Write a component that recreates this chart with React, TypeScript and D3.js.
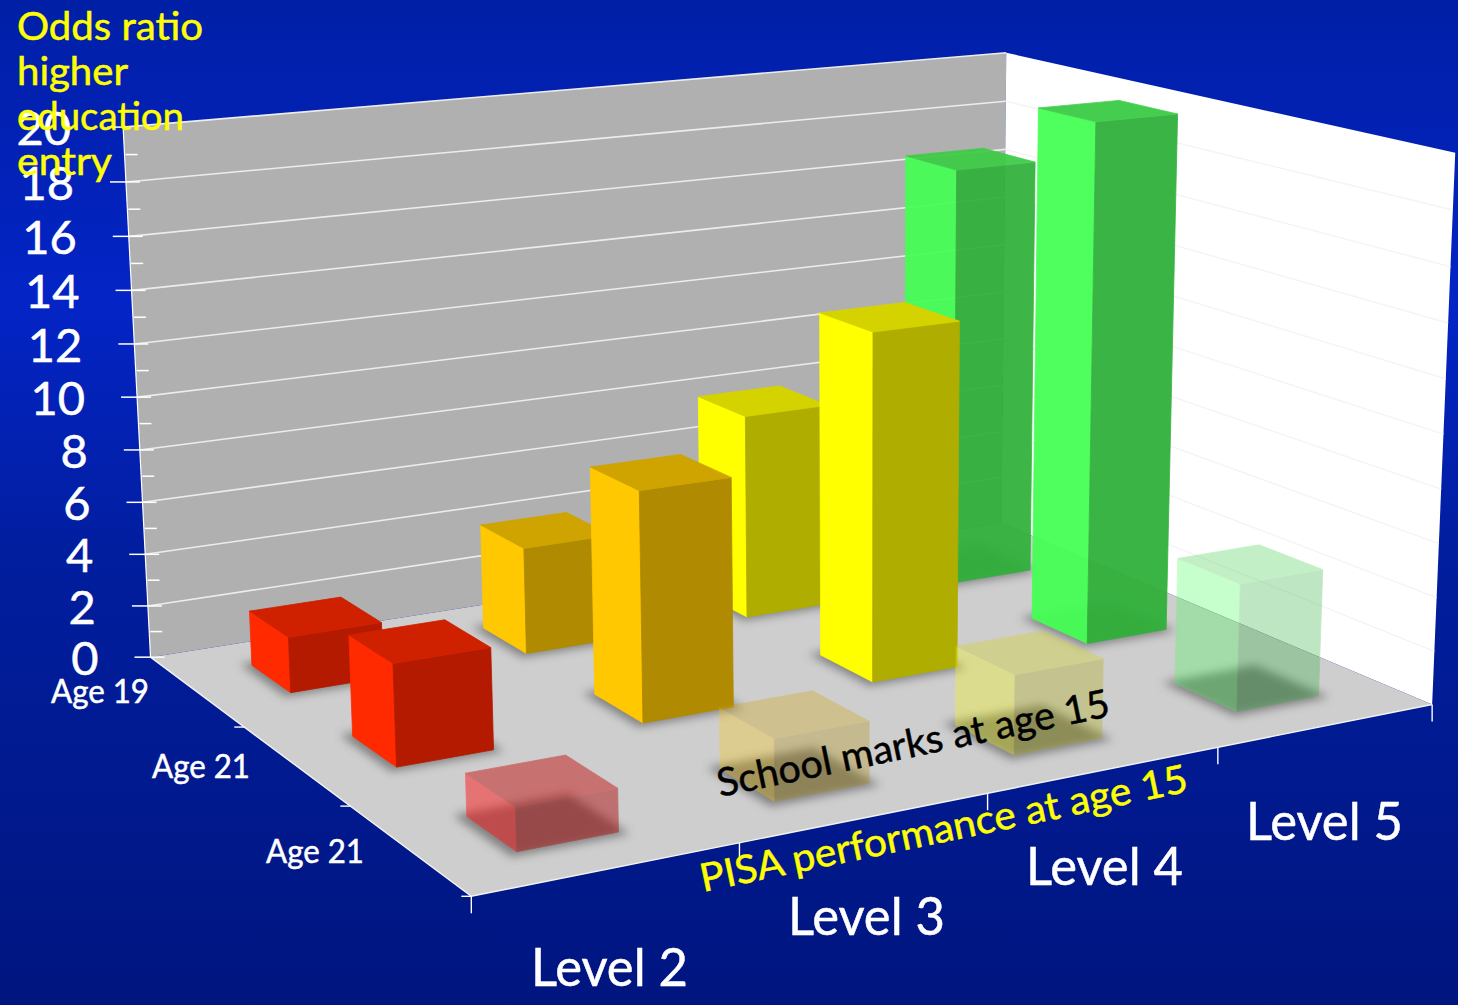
import React from "react";
import * as d3 from "d3";

// ---- chart values -------------------------------------------------------
const levels = ["Level 2", "Level 3", "Level 4", "Level 5"];
const rows = ["Age 19", "Age 21", "Age 21 "];
const age19Values = [2.1, 4.1, 8.0, 16.7];
const age21Values = [3.7, 8.5, 13.1, 19.9];
const age21MarksValues = [1.5, 2.2, 2.9, 4.75];
const valueTicks = d3.range(0, 21);
const yTitle = ["Odds ratio", "higher", "education", "entry"];
const yTitleWidths = [186, 111, 167, 95];

const W = 1458;
const H = 1005;
const FONT = "'Comic Sans MS', 'Lato', sans-serif";

// Calibration of the 3D box: (column edge, row edge, value, px, py, weight).
const anchors: [number, number, number, number, number, number][] = [
  [0, 0, 0, 149.5, 655, 4],
  [4, 0, 0, 1004, 525, 4],
  [0, 3, 0, 472, 898, 4],
  [4, 3, 0, 1430, 703, 4],
  [0, 0, 20, 124, 128, 4],
  [4, 0, 20, 1004, 52, 4],
  [4, 3, 20, 1457, 153, 4],
  [0, 0, 10, 137, 396, 1],
  [1, 3, 0, 741, 846, 1],
  [2, 3, 0, 988, 795, 1],
  [3, 3, 0, 1217, 748, 1],
  [0, 1, 0, 240, 724, 1],
  [0, 2, 0, 347, 805, 1],
  [4, 3, 10, 1444, 429, 1],
];

function solve(A: number[][], b: number[]) {
  const n = b.length;
  const M = A.map((r, i) => [...r, b[i]]);
  for (let c = 0; c < n; c++) {
    let p = c;
    for (let r = c + 1; r < n; r++) if (Math.abs(M[r][c]) > Math.abs(M[p][c])) p = r;
    [M[c], M[p]] = [M[p], M[c]];
    for (let r = 0; r < n; r++) {
      if (r === c) continue;
      const f = M[r][c] / M[c][c];
      for (let k = c; k <= n; k++) M[r][k] -= f * M[c][k];
    }
  }
  return M.map((r, i) => r[n] / r[i]);
}

// Weighted least-squares projection matrix through the calibration points.
function fitCamera() {
  const eqs: number[][] = [];
  const rhs: number[] = [];
  for (const [X0, Y0, Z0, u0, v0, wt] of anchors) {
    const X = X0 / 4, Y = Y0 / 3, Z = Z0 / 20, u = u0 / 1000, v = v0 / 1000;
    eqs.push([X, Y, Z, 1, 0, 0, 0, 0, -u * X, -u * Y, -u * Z].map((e) => e * wt));
    rhs.push(u * wt);
    eqs.push([0, 0, 0, 0, X, Y, Z, 1, -v * X, -v * Y, -v * Z].map((e) => e * wt));
    rhs.push(v * wt);
  }
  const N = d3.range(11).map((i) =>
    d3.range(11).map((j) => d3.sum(eqs, (e) => e[i] * e[j]))
  );
  const t = d3.range(11).map((i) => d3.sum(eqs, (e, k) => e[i] * rhs[k]));
  return solve(N, t);
}
const cam = fitCamera();

const project = (x: number, y: number, z: number): [number, number] => {
  const X = x / 4, Y = y / 3, Z = z / 20;
  const w = cam[8] * X + cam[9] * Y + cam[10] * Z + 1;
  return [
    (1000 * (cam[0] * X + cam[1] * Y + cam[2] * Z + cam[3])) / w,
    (1000 * (cam[4] * X + cam[5] * Y + cam[6] * Z + cam[7])) / w,
  ];
};

const xBand = d3.scaleBand<string>().domain(levels).range([0, 4]).paddingInner(0.615).paddingOuter(0.3075);
const yBand = d3.scaleBand<string>().domain(rows).range([0, 3]).paddingInner(0.6).paddingOuter(0.3);
const poly = d3.line<[number, number]>().curve(d3.curveLinearClosed);
const seg = d3.line<[number, number]>();

const columnColors = [
  { left: "#ff2a00", right: "#b31a00", top: "#cf2000" },
  { left: "#ffc800", right: "#b08a00", top: "#cfa300" },
  { left: "#ffff00", right: "#aead00", top: "#d4d300" },
  { left: "#45ff55", right: "#30b03a", top: "#3ccb46" },
];
const frontRed = { left: "#ff1a1a", right: "#b01414", top: "#c41616" };
const rowOpacity = [
  [1, 1, 1, 0.93],
  [1, 1, 1, 0.95],
  [0.5, 0.3, 0.3, 0.3],
];
const rowValues = [age19Values, age21Values, age21MarksValues];

function Bar({ ci, ri, value }: { ci: number; ri: number; value: number }) {
  const x0 = xBand(levels[ci])!;
  const x1 = x0 + xBand.bandwidth();
  const y0 = yBand(rows[ri])!;
  const y1 = y0 + yBand.bandwidth();
  const c = ri === 2 && ci === 0 ? frontRed : columnColors[ci];
  const op = rowOpacity[ri][ci];
  const faces: [string, [number, number][]][] = [
    [c.left, [project(x0, y0, 0), project(x0, y1, 0), project(x0, y1, value), project(x0, y0, value)]],
    [c.right, [project(x0, y1, 0), project(x1, y1, 0), project(x1, y1, value), project(x0, y1, value)]],
    [c.top, [project(x0, y0, value), project(x0, y1, value), project(x1, y1, value), project(x1, y0, value)]],
  ];
  return (
    <g opacity={op}>
      {faces.map(([fill, pts], i) => (
        <path key={i} d={poly(pts)!} fill={fill} stroke={fill} strokeWidth={0.8} strokeLinejoin="round" />
      ))}
    </g>
  );
}

function Shadow({ ci, ri }: { ci: number; ri: number }) {
  const grow = 0.035;
  const x0 = xBand(levels[ci])! - grow;
  const x1 = xBand(levels[ci])! + xBand.bandwidth() + grow * 0.7;
  const y0 = yBand(rows[ri])! - grow;
  const y1 = yBand(rows[ri])! + yBand.bandwidth() + grow;
  return (
    <path
      d={poly([project(x0, y0, 0), project(x0, y1, 0), project(x1, y1, 0), project(x1, y0, 0)])!}
      fill="#505050"
      opacity={0.62}
      filter="url(#soft)"
    />
  );
}

function Label(p: { x: number; y: number; size: number; fill: string; width?: number; rotate?: number; anchor?: string; children: string }) {
  const extra = p.width ? { textLength: p.width, lengthAdjust: "spacingAndGlyphs" } : {};
  return (
    <text
      x={p.x}
      y={p.y}
      fontFamily={FONT}
      fontSize={p.size}
      fill={p.fill}
      stroke={p.fill}
      strokeWidth={0.5}
      textAnchor={p.anchor ?? "start"}
      transform={p.rotate ? `rotate(${p.rotate} ${p.x} ${p.y})` : undefined}
      {...extra}
    >
      {p.children}
    </text>
  );
}

const rowLabelPos = [[51, 703], [152, 778], [266, 863]];
const levelLabelPos = [[531, 986], [788, 935], [1026, 885], [1246, 840]];

export default function App() {
  return (
    <svg width={W} height={H} style={{ position: "absolute", left: 0, top: 0, display: "block" }}>
      <defs>
        <linearGradient id="bg" x1="0" y1="0" x2="0" y2="1">
          <stop offset="0" stopColor="#001fa6" />
          <stop offset="0.3" stopColor="#0424c6" />
          <stop offset="0.55" stopColor="#011e9f" />
          <stop offset="1" stopColor="#00157f" />
        </linearGradient>
        <filter id="soft" x="-30%" y="-30%" width="160%" height="160%">
          <feGaussianBlur stdDeviation="5" />
        </filter>
      </defs>
      <rect width={W} height={H} fill="url(#bg)" />

      {/* box walls and floor */}
      <path d={poly([project(0, 0, 0), project(4, 0, 0), project(4, 0, 20), project(0, 0, 20)])!} fill="#b0b0b0" />
      <path d={poly([project(4, 0, 0), project(4, 3, 0), project(4, 3, 20), project(4, 0, 20)])!} fill="#ffffff" />
      <path d={poly([project(0, 0, 0), project(0, 3, 0), project(4, 3, 0), project(4, 0, 0)])!} fill="#cecece" />

      {/* grid lines every 2 units */}
      {valueTicks.filter((v) => v % 2 === 0 && v > 0).map((v) => (
        <g key={v}>
          <path d={seg([project(0, 0, v), project(4, 0, v)])!} stroke="#ececec" strokeWidth={1.6} fill="none" />
          {v < 20 && <path d={seg([project(4, 0, v), project(4, 3, v)])!} stroke="#f4f4f4" strokeWidth={1.4} fill="none" />}
        </g>
      ))}

      {/* value axis */}
      <path d={seg([project(0, 0, 0), project(0, 0, 20)])!} stroke="#ffffff" strokeWidth={1.2} fill="none" />
      {valueTicks.map((v) => {
        const [px, py] = project(0, 0, v);
        const major = v % 2 === 0;
        return (
          <g key={v}>
            <line x1={major ? px - 16 : px + 1} x2={major ? (v === 20 ? px : px + 14) : px + 13} y1={py} y2={py} stroke="#ffffff" strokeWidth={1.5} />
            {major && (
              <Label x={px - 52} y={py + 18} size={47} fill="#ffffff" anchor="end">
                {String(v)}
              </Label>
            )}
          </g>
        );
      })}

      {/* floor edges and ticks */}
      <path d={seg([project(0, 0, 0), project(0, 3, 0), project(4, 3, 0)])!} stroke="#f4f4f4" strokeWidth={1.4} fill="none" />
      {d3.range(0, 5).map((k) => {
        const [px, py] = project(k, 3, 0);
        return <line key={k} x1={px} x2={px} y1={py} y2={py + 17} stroke="#ffffff" strokeWidth={1.4} />;
      })}
      {d3.range(1, 4).map((k) => {
        const [px, py] = project(0, k, 0);
        return <line key={k} x1={px - 10} x2={px} y1={py} y2={py} stroke="#ffffff" strokeWidth={1.4} />;
      })}

      {/* bars, far row first, right to left inside a row */}
      {rows.map((_, ri) => levels.map((__, ci) => <Shadow key={`${ri}-${ci}`} ci={ci} ri={ri} />))}
      {rows.map((_, ri) =>
        d3.range(levels.length - 1, -1, -1).map((ci) => (
          <Bar key={`${ri}-${ci}`} ci={ci} ri={ri} value={rowValues[ri][ci]} />
        ))
      )}

      {/* text */}
      {yTitle.map((t, i) => (
        <Label key={t} x={17} y={40 + i * 45} size={38} fill="#ffff00" width={yTitleWidths[i]}>
          {t}
        </Label>
      ))}
      {rows.map((r, i) => (
        <Label key={i} x={rowLabelPos[i][0]} y={rowLabelPos[i][1]} size={32} fill="#ffffff" width={98}>
          {r.trim()}
        </Label>
      ))}
      {levels.map((l, i) => (
        <Label key={l} x={levelLabelPos[i][0]} y={levelLabelPos[i][1]} size={52} fill="#ffffff" width={157}>
          {l}
        </Label>
      ))}
      <Label x={720} y={797} size={39} fill="#000000" rotate={-11.7} width={400}>
        School marks at age 15
      </Label>
      <Label x={703} y={892} size={39} fill="#ffff00" rotate={-11.7} width={497}>
        PISA performance at age 15
      </Label>
    </svg>
  );
}
